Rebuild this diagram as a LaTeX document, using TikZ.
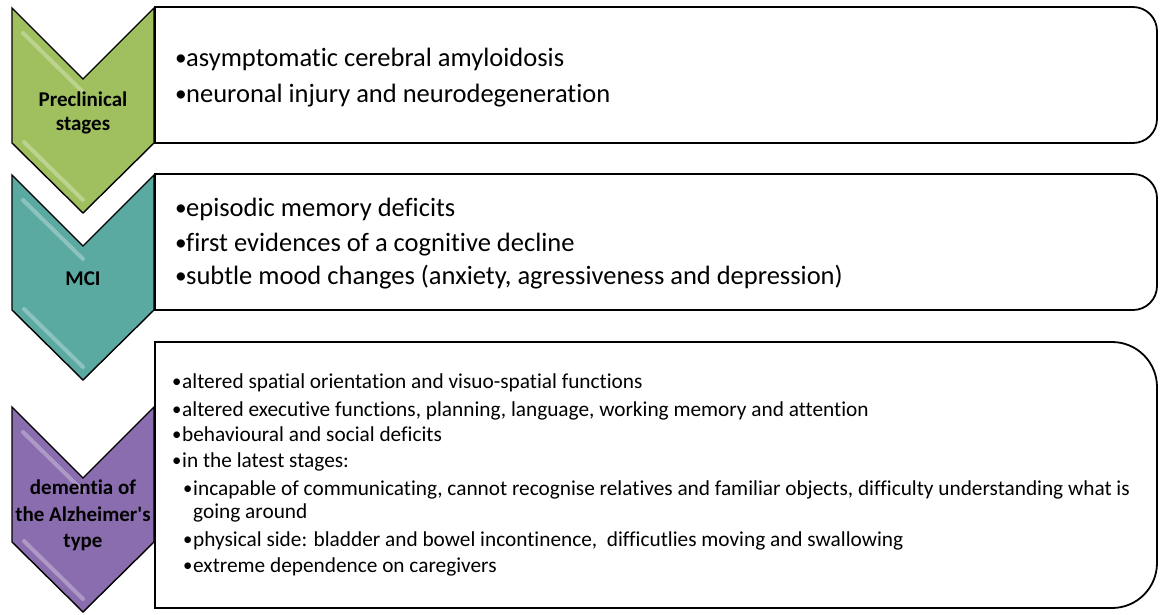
\documentclass[tikz,border=0pt]{standalone}
\usepackage{graphicx}
\usepackage{fontspec}
\setmainfont{Carlito}[Ligatures={NoCommon,TeXOff}]
\definecolor{cgreen}{HTML}{A0C060}
\definecolor{cteal}{HTML}{5BAAA2}
\definecolor{cpurple}{HTML}{8A6DAE}
\begin{document}
\begin{tikzpicture}[x=1pt,y=-1pt,
  chev/.style={draw=black, line width=1.4pt, line join=miter},
  hl/.style={white, opacity=0.3, line width=4pt, line cap=round},
  box/.style={draw=black, line width=1.8pt, fill=white},
  lbl/.style={anchor=base, inner sep=0pt, font=\bfseries\fontsize{21}{24}\selectfont},
  big/.style={anchor=base west, inner sep=0pt, font=\fontsize{26.5}{30}\selectfont},
  small/.style={anchor=base west, inner sep=0pt, font=\fontsize{21.3}{25}\selectfont}]
\useasboundingbox (0,0) rectangle (1160,614);
\newcommand{\bul}[1]{\makebox[#1][l]{\raisebox{0.02em}{\scalebox{0.88}{•}}}}
% chevrons
\foreach \T/\col in {8/cgreen, 175/cteal, 407/cpurple}{
  \begin{scope}[shift={(0,\T)}]
    \draw[chev, fill=\col] (12,0) -- (83,71) -- (154,0) -- (154,135) -- (83,205) -- (12,135) -- cycle;
    \draw[hl] (23,25) -- (83,84);
    \draw[hl] (24,134) -- (83,192);
  \end{scope}
}
% boxes
\draw[box] (155,7) -- (1133,7) arc[start angle=-90, end angle=0, radius=24] -- (1157,119) arc[start angle=0, end angle=90, radius=24] -- (155,143) -- cycle;
\draw[box] (155,174) -- (1133,174) arc[start angle=-90, end angle=0, radius=24] -- (1157,286) arc[start angle=0, end angle=90, radius=24] -- (155,310) -- cycle;
\draw[box] (155,342) -- (1112,342) arc[start angle=-90, end angle=0, radius=45] -- (1157,563) arc[start angle=0, end angle=90, radius=45] -- (155,608) -- cycle;
% chevron labels
\node[lbl] (pc1) at (83,106) {Preclinical};
\node[lbl] (pc2) at (83,130) {stages};
\node[lbl] (mci) at (83,285) {MCI};
\node[lbl] (dm1) at (83,494) {dementia of};
\node[lbl] (dm2) at (83,521) {the Alzheimer's};
\node[lbl] (dm3) at (83,547) {type};
% box 1
\node[big] (a1) at (175,66) {\bul{11pt}asymptomatic cerebral amyloidosis};
\node[big] (a2) at (175,102) {\bul{11pt}neuronal injury and neurodegeneration};
% box 2
\node[big] (b1) at (175,216) {\bul{11pt}episodic memory deficits};
\node[big] (b2) at (175,251) {\bul{11pt}first evidences of a cognitive decline};
\node[big] (b3) at (175,284) {\bul{11pt}subtle mood changes (anxiety, agressiveness and depression)};
% box 3
\node[small] (c1) at (172,388) {\bul{10pt}altered spatial orientation and visuo-spatial functions};
\node[small] (c2) at (172,416) {\bul{10pt}altered executive functions, planning, language, working memory and attention};
\node[small] (c3) at (172,441) {\bul{10pt}behavioural and social deficits};
\node[small] (c4) at (172,467) {\bul{10pt}in the latest stages:};
\node[small] (d1) at (183,495) {\bul{10pt}incapable of communicating, cannot recognise relatives and familiar objects, difficulty understanding what is};
\node[small] (d1b) at (193,518) {going around};
\node[small] (d2) at (183,546) {\bul{10pt}physical side: bladder and bowel incontinence,\ \ difficutlies moving and swallowing};
\node[small] (d3) at (183,572) {\bul{10pt}extreme dependence on caregivers};
\end{tikzpicture}
\end{document}
